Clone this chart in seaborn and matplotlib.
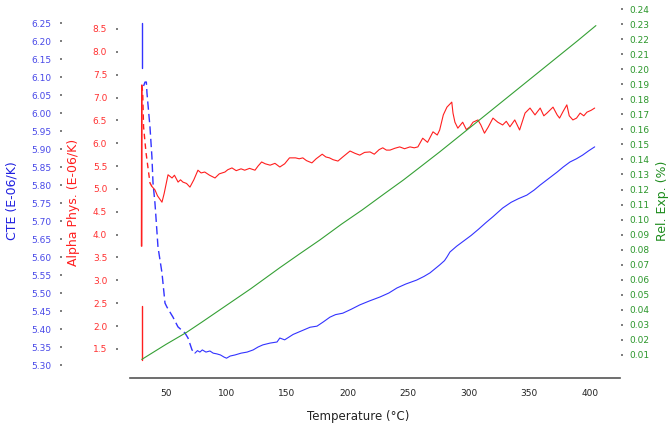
import matplotlib
matplotlib.use("Agg")
import matplotlib.pyplot as plt
import seaborn as sns
import numpy as np
import pandas as pd

# ---------------- data ----------------
# Alpha Phys. (E-06/K) - red
red_start_T = [29.8, 29.8]
red_start_v = [1.26, 2.44]
red_spike_T = [29.9, 30.1]
red_spike_v = [3.75, 7.27]
red_trans_T = [30.1, 30.8, 31.5, 33.5, 36.8, 38.5]
red_trans_v = [7.27, 7.10, 6.36, 5.80, 5.13, 5.05]
red_T = [38.5, 40.9, 43, 46.7, 48.5, 51.7, 55, 57, 60, 62, 64, 67, 69.8, 73, 76.4, 79, 82, 86,
         90.5, 94, 98.7, 101, 104.5, 108, 112, 115, 119, 123.5, 126, 129, 132, 136, 140, 144,
         148, 152, 157, 160, 163, 166, 170.5, 174, 179, 182, 185, 188, 192, 196, 202, 206, 210,
         214, 218.5, 222, 226, 229, 232, 235, 239, 243, 247, 251.5, 255, 258, 262, 266, 270.5,
         274, 276, 279, 282, 286, 287, 288.6, 291, 295, 298, 301, 303.5, 307.6, 310, 313, 316,
         320, 324, 328, 331, 334, 338, 342, 346.5, 350.6, 354.7, 359, 362, 364.6, 369.6, 373,
         375, 378, 381, 383, 386, 389, 392, 395, 397.6, 401, 404]
red_v = [5.05, 4.98, 4.85, 4.71, 4.90, 5.31, 5.24, 5.30, 5.15, 5.20, 5.15, 5.12, 5.04, 5.20, 5.41,
         5.35, 5.37, 5.30, 5.24, 5.33, 5.37, 5.42, 5.46, 5.40, 5.44, 5.41, 5.45, 5.41, 5.50, 5.59,
         5.55, 5.52, 5.56, 5.48, 5.55, 5.68, 5.68, 5.66, 5.68, 5.62, 5.57, 5.66, 5.76, 5.70, 5.68,
         5.64, 5.61, 5.70, 5.83, 5.78, 5.74, 5.80, 5.81, 5.76, 5.86, 5.90, 5.85, 5.85, 5.89, 5.92,
         5.88, 5.92, 5.90, 5.92, 6.11, 6.02, 6.25, 6.18, 6.29, 6.62, 6.79, 6.90, 6.66, 6.46, 6.33,
         6.46, 6.30, 6.36, 6.46, 6.51, 6.40, 6.22, 6.35, 6.55, 6.46, 6.40, 6.48, 6.36, 6.51, 6.29,
         6.66, 6.77, 6.62, 6.77, 6.60, 6.66, 6.79, 6.62, 6.55, 6.70, 6.84, 6.60, 6.51, 6.55, 6.66,
         6.60, 6.68, 6.72, 6.77]

# CTE (E-06/K) - blue
blue_spike_T = [29.9, 29.9]
blue_spike_v = [6.25, 6.125]
blue_trans_T = [31.5, 32.7, 33.8, 34.3, 36.8, 38.4, 39.3, 40.9, 41.5, 43.4, 46.7, 49.2, 50.8,
                55.8, 59.9, 65.7, 68.2, 71.5, 73.9]
blue_trans_v = [6.075, 6.086, 6.086, 6.056, 5.961, 5.878, 5.806, 5.750, 5.722, 5.628, 5.556,
                5.472, 5.461, 5.433, 5.406, 5.389, 5.375, 5.342, 5.333]
blue_T = [73.9, 76, 78, 80, 83, 86.3, 89, 92, 95, 98, 100, 103, 107, 112, 117, 122, 126, 130,
          136, 141.7, 144, 148, 155, 162, 169, 174.7, 180, 185.4, 190, 196, 203, 210, 218, 226.7,
          234, 240.7, 248, 257, 263, 268, 272, 276, 280, 282, 284.5, 290, 296, 302, 308, 314,
          320, 328, 335, 341, 348, 354, 359, 366, 373, 378, 383.6, 389, 394, 399, 404]
blue_v = [5.333, 5.340, 5.336, 5.342, 5.336, 5.339, 5.333, 5.331, 5.328, 5.322, 5.319, 5.325,
          5.328, 5.333, 5.336, 5.342, 5.350, 5.356, 5.361, 5.364, 5.375, 5.370, 5.385, 5.395,
          5.405, 5.408, 5.420, 5.433, 5.440, 5.444, 5.455, 5.467, 5.478, 5.489, 5.500, 5.514,
          5.525, 5.536, 5.546, 5.556, 5.567, 5.578, 5.590, 5.600, 5.614, 5.630, 5.645, 5.660,
          5.677, 5.695, 5.712, 5.736, 5.752, 5.762, 5.772, 5.786, 5.800, 5.818, 5.836, 5.850,
          5.864, 5.873, 5.883, 5.895, 5.906]

# Rel. Exp. (%) - green
green_T = [30, 40, 50, 67, 80, 100, 120, 144, 160, 177, 195, 212, 230, 246, 260, 276, 293, 310,
           330, 350, 370, 390, 405]
green_v = [0.007, 0.012, 0.017, 0.025, 0.032, 0.043, 0.054, 0.068, 0.077, 0.0864, 0.097, 0.1064,
           0.117, 0.1263, 0.135, 0.145, 0.156, 0.167, 0.180, 0.193, 0.206, 0.219, 0.229]

x_ticks = [50, 100, 150, 200, 250, 300, 350, 400]
blue_ticks = [round(5.30 + 0.05 * i, 2) for i in range(20)]
red_ticks = [1.5 + 0.5 * i for i in range(15)]
green_ticks = [round(0.01 * i, 2) for i in range(1, 25)]

# ---------------- style ----------------
sns.set_style("white")
plt.rcParams['font.family'] = ['DejaVu Sans']

BLUE = '#3333ff'
RED = '#ff1f1f'
GREEN = '#35a035'
BLUE_TXT = '#4848e8'
RED_TXT = '#ff3030'
GREEN_TXT = '#2a962a'

PX = 72 / 100  # points per pixel

fig = plt.figure(figsize=(6.69, 4.25), dpi=100)
rect = [130 / 669, 1 - 378 / 425, 490 / 669, 373 / 425]
ax_b = fig.add_axes(rect)
ax_r = ax_b.twinx()
ax_g = ax_b.twinx()


def line(ax, T, v, color, ls='-', lw=0.9):
    df = pd.DataFrame({'T': T, 'v': v})
    sns.lineplot(data=df, x='T', y='v', ax=ax, color=color, lw=lw, linestyle=ls,
                 estimator=None, sort=False, legend=False)


line(ax_g, green_T, green_v, GREEN, lw=0.8)
line(ax_b, blue_spike_T, blue_spike_v, BLUE, lw=1.0)
line(ax_b, blue_trans_T, blue_trans_v, BLUE, ls=(0, (6, 3)), lw=1.0)
line(ax_b, blue_T, blue_v, BLUE, lw=0.8)
line(ax_r, red_start_T, red_start_v, RED, lw=1.0)
line(ax_r, red_spike_T, red_spike_v, RED, lw=1.2)
line(ax_r, red_trans_T, red_trans_v, RED, ls=(0, (4, 3)), lw=1.0)
line(ax_r, red_T, red_v, RED, lw=0.8)

# limits
ax_b.set_xlim(20.3, 424.9)
ax_b.set_ylim(5.264, 6.30)
ax_r.set_ylim(0.863, 9.025)
ax_g.set_ylim(-0.00535, 0.2427)

# spines
for a in (ax_b, ax_r, ax_g):
    for s in a.spines.values():
        s.set_visible(False)
ax_b.spines['bottom'].set_visible(True)
ax_b.spines['bottom'].set_color('#555555')
ax_b.spines['bottom'].set_linewidth(1.2)

ax_b.spines['left'].set_position(('outward', 68 * PX))
ax_r.yaxis.tick_left()
ax_r.yaxis.set_label_position('left')
ax_r.spines['left'].set_position(('outward', 12 * PX))
ax_r.spines['right'].set_visible(False)
ax_g.spines['right'].set_position(('outward', 1 * PX))

# ticks
ax_b.set_xticks(x_ticks)
ax_b.set_xticks(list(range(30, 420, 10)), minor=True)
ax_b.tick_params(axis='x', which='major', length=3, width=0.8, color='#555555',
                 labelsize=6.5, labelcolor='#222222', pad=5)
ax_b.tick_params(axis='x', which='minor', length=2, width=0.6, color='#777777')

ax_b.set_yticks(blue_ticks)
ax_b.set_yticklabels([f"{t:.2f}" for t in blue_ticks])
ax_r.set_yticks(red_ticks)
ax_r.set_yticklabels([f"{t:.1f}" for t in red_ticks])
ax_g.set_yticks(green_ticks)
ax_g.set_yticklabels([f"{t:.2f}" for t in green_ticks])

for a, c, p in ((ax_b, BLUE_TXT, 9 * PX), (ax_r, RED_TXT, 9 * PX), (ax_g, GREEN_TXT, 7 * PX)):
    a.tick_params(axis='y', which='major', length=1.3, width=1.2, color='#666666',
                  labelsize=6.5, labelcolor=c, pad=p)

# labels
ax_b.set_xlabel('Temperature (°C)', fontsize=8.5, color='#222222')
ax_b.xaxis.set_label_coords(0.465, -0.086)
ax_b.set_ylabel('CTE (E-06/K)', fontsize=9, color='#2020e0')
ax_b.yaxis.set_label_coords(-0.228, 0.475)
ax_r.set_ylabel('Alpha Phys. (E-06/K)', fontsize=9, color=RED)
ax_r.yaxis.set_label_coords(-0.102, 0.47)
ax_g.set_ylabel('Rel. Exp. (%)', fontsize=9, color='#1e8c1e', rotation=90)
ax_g.yaxis.set_label_coords(1.074, 0.475)

fig.savefig('out.png', dpi=100)
